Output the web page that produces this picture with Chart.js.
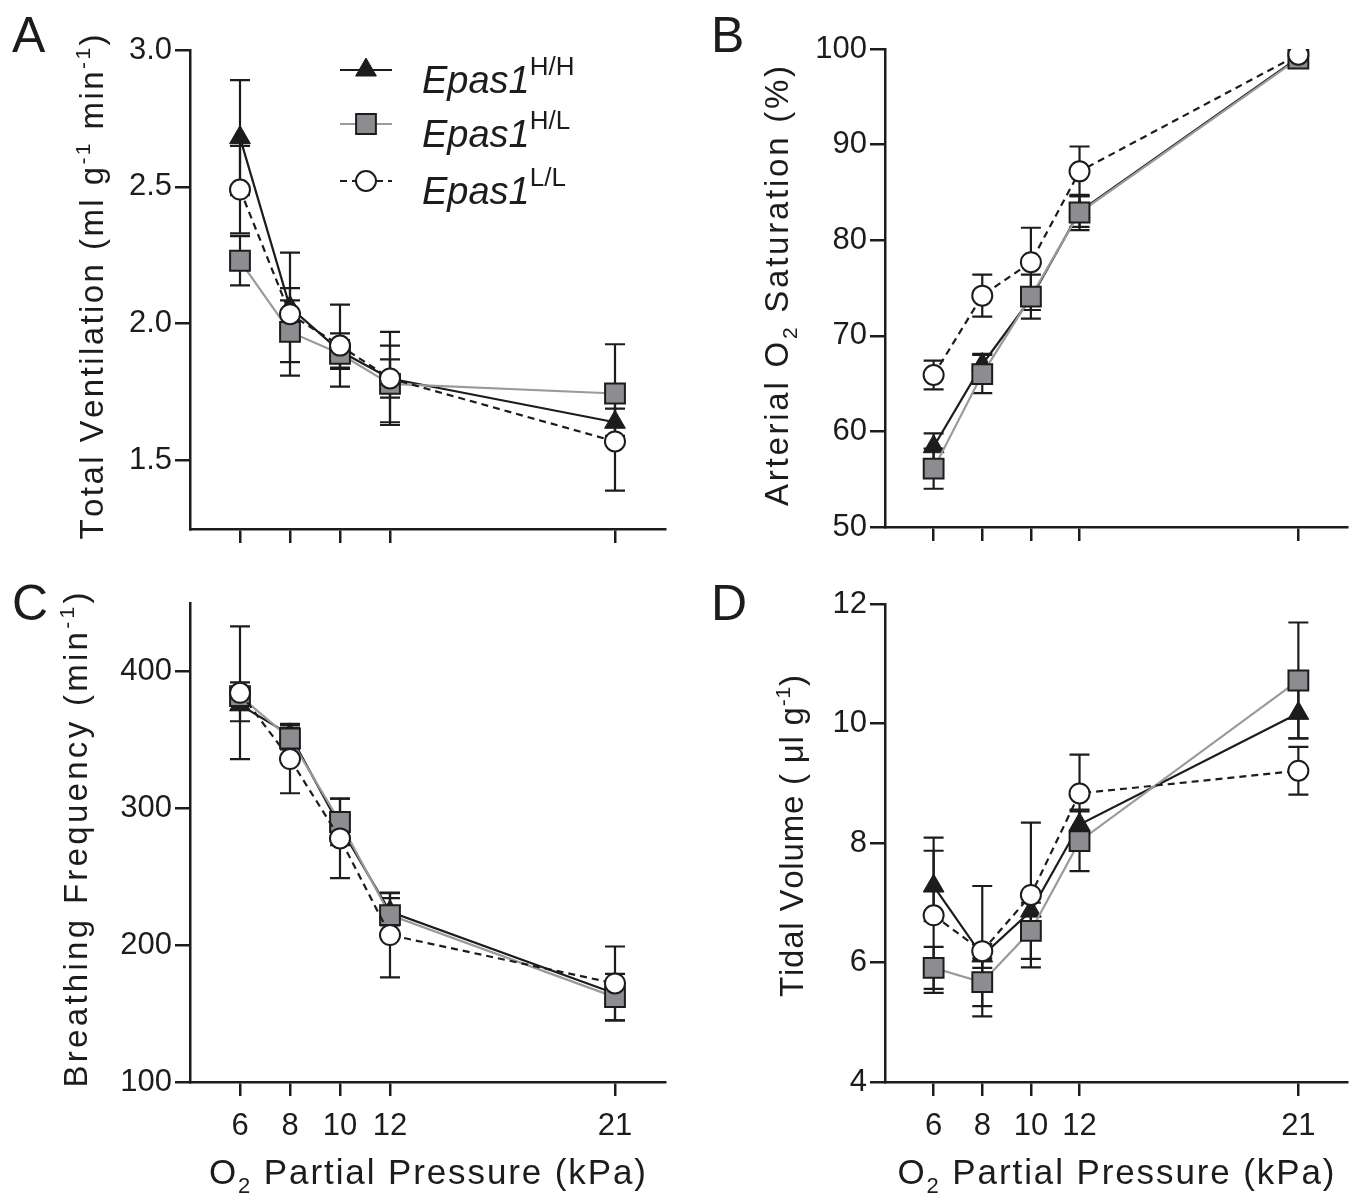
<!DOCTYPE html>
<html><head><meta charset="utf-8">
<script src="https://cdn.jsdelivr.net/npm/chart.js@4.4.1/dist/chart.umd.min.js"></script>
<style>
html,body{margin:0;padding:0;background:#fff;}
#wrap{position:relative;width:1363px;height:1194px;overflow:hidden;background:#fff;}
canvas{position:absolute;}
</style></head><body>
<div id="wrap">
<canvas id="cA" width="681" height="597" style="left:0px;top:0px;width:681px;height:597px"></canvas>
<canvas id="cB" width="682" height="597" style="left:681px;top:0px;width:682px;height:597px"></canvas>
<canvas id="cC" width="681" height="634" style="left:0px;top:560px;width:681px;height:634px"></canvas>
<canvas id="cD" width="682" height="634" style="left:681px;top:560px;width:682px;height:634px"></canvas>
</div>
<script>
// ---------- data ----------
const O2_KPA = [6, 8, 10, 12, 21];
const X_TICKS = [6, 8, 10, 12, 21];
const GENOTYPES = ['H/H', 'H/L', 'L/L'];

// A: Total ventilation (ml g-1 min-1)
const ventHH = [2.68, 2.06, 1.90, 1.80, 1.64];
const ventHH_err = [0.21, 0.20, 0.065, 0.17, 0.05];
const ventHL = [2.23, 1.97, 1.89, 1.78, 1.745];
const ventHL_err = [0.09, 0.16, 0.05, 0.14, 0.18];
const ventLL = [2.49, 2.035, 1.92, 1.80, 1.57];
const ventLL_err = [0.16, 0.05, 0.15, 0.07, 0.18];
const ventTicks = [1.5, 2.0, 2.5, 3.0];

// B: Arterial O2 saturation (%)
const satHH = [58.4, 67.0, 73.9, 83.0, 99.1];
const satHH_err = [1.4, 1.1, 1.2, 1.6, 0.3];
const satHL = [56.1, 66.0, 74.1, 82.9, 99.0];
const satHL_err = [2.1, 2.0, 2.3, 1.85, 0.3];
const satLL = [65.9, 74.2, 77.7, 87.2, 99.4];
const satLL_err = [1.5, 2.2, 3.6, 2.6, 0.3];
const satTicks = [50, 60, 70, 80, 90, 100];

// C: Breathing frequency (min-1)
const freqHH = [375.6, 353.7, 286.6, 224.4, 164.7];
const freqHH_err = [12, 8, 8, 10, 8];
const freqHL = [382, 351, 290, 222, 162];
const freqHL_err = [10, 8, 17, 16, 17];
const freqLL = [384.4, 336, 278, 207.4, 172];
const freqLL_err = [48.5, 25, 29, 31, 27];
const freqTicks = [100, 200, 300, 400];

// D: Tidal volume (ul g-1)
const tidHH = [7.28, 6.11, 6.86, 8.31, 10.17];
const tidHH_err = [0.59, 0.2, 0.3, 0.25, 0.42];
const tidHL = [5.91, 5.67, 6.53, 8.03, 10.72];
const tidHL_err = [0.35, 0.40, 0.47, 0.50, 0.97];
const tidLL = [6.79, 6.19, 7.13, 8.83, 9.21];
const tidLL_err = [1.30, 1.09, 1.21, 0.65, 0.40];
const tidTicks = [4, 6, 8, 10, 12];

// ---------- styling ----------
const FONT = '"Liberation Sans", Arial, Helvetica, sans-serif';
const INK = '#1c1c1c';
const GREY_LINE = '#9a9a9a';
const GREY_FILL = '#8d8d91';
Chart.defaults.font.family = FONT;
Chart.defaults.color = INK;

function fontFor(r, base) {
  const size = r.size || ((r.sup || r.sub) ? Math.round(base * 0.64) : base);
  return (r.italic ? 'italic ' : '') + size + 'px ' + FONT;
}
function runChars(runs) { let n = 0; runs.forEach(r => n += r.t.length); return n; }
function richWidth(ctx, runs, base, ls) {
  let w = 0;
  for (const r of runs) {
    ctx.font = fontFor(r, base);
    for (const ch of r.t) w += ctx.measureText(ch).width + (ls || 0);
  }
  return w - (ls || 0);
}
function drawRich(ctx, runs, base, x0, y0, ls) {
  let x = x0;
  ctx.textBaseline = 'alphabetic';
  ctx.textAlign = 'left';
  for (const r of runs) {
    ctx.font = fontFor(r, base);
    const dy = r.dy !== undefined ? r.dy : (r.sup ? -base * 0.4 : (r.sub ? base * 0.26 : 0));
    if (!ls) { ctx.fillText(r.t, x, y0 + dy); x += ctx.measureText(r.t).width; continue; }
    for (const ch of r.t) { ctx.fillText(ch, x, y0 + dy); x += ctx.measureText(ch).width + ls; }
  }
}
// letter spacing that makes a title span the requested length
function fitSpacing(ctx, runs, base, target) {
  const w0 = richWidth(ctx, runs, base, 0);
  const n = runChars(runs) - 1;
  return Math.max(-1.5, (target - w0) / n);
}
function marker(ctx, style, x, y) {
  ctx.save();
  ctx.lineWidth = 2;
  ctx.strokeStyle = INK;
  ctx.beginPath();
  if (style === 'triangle') {
    const r = 12;
    let a = 0;
    ctx.moveTo(x + Math.sin(a) * r, y - Math.cos(a) * r);
    a += 2 * Math.PI / 3; ctx.lineTo(x + Math.sin(a) * r, y - Math.cos(a) * r);
    a += 2 * Math.PI / 3; ctx.lineTo(x + Math.sin(a) * r, y - Math.cos(a) * r);
    ctx.closePath();
    ctx.fillStyle = INK; ctx.lineWidth = 1;
  } else if (style === 'rect') {
    const s = Math.SQRT1_2 * 14;
    ctx.rect(x - s, y - s, 2 * s, 2 * s);
    ctx.fillStyle = GREY_FILL;
  } else {
    ctx.arc(x, y, 10, 0, Math.PI * 2);
    ctx.fillStyle = '#fff';
  }
  ctx.fill(); ctx.stroke();
  ctx.restore();
}

// error bars drawn beneath lines/markers
const errorBars = {
  id: 'errorBars',
  beforeDatasetsDraw(chart) {
    const ctx = chart.ctx, xs = chart.scales.x, ys = chart.scales.y;
    ctx.save();
    ctx.strokeStyle = INK;
    ctx.lineWidth = 2.2;
    chart.data.datasets.forEach(ds => {
      (ds.errors || []).forEach((e, i) => {
        const p = ds.data[i];
        const px = xs.getPixelForValue(p.x);
        const yt = ys.getPixelForValue(p.y + e), yb = ys.getPixelForValue(p.y - e);
        ctx.beginPath();
        ctx.moveTo(px, yt); ctx.lineTo(px, yb);
        ctx.moveTo(px - 10, yt); ctx.lineTo(px + 10, yt);
        ctx.moveTo(px - 10, yb); ctx.lineTo(px + 10, yb);
        ctx.stroke();
      });
    });
    ctx.restore();
  }
};

// titles, panel letters, legend
const decorations = {
  id: 'decorations',
  afterDraw(chart, args, o) {
    const ctx = chart.ctx;
    ctx.save();
    ctx.fillStyle = INK;
    // panel letter
    ctx.font = '50px ' + FONT;
    ctx.textAlign = 'left'; ctx.textBaseline = 'alphabetic';
    ctx.fillText(o.letter, o.letterX - o.offX, o.letterY - o.offY);
    // y title (rotated)
    const YS = 33;
    const lsY = fitSpacing(ctx, o.ytitle, YS, o.ytLen);
    const w = richWidth(ctx, o.ytitle, YS, lsY);
    ctx.save();
    ctx.translate(o.ytX - o.offX, o.ytY - o.offY);
    ctx.rotate(-Math.PI / 2);
    drawRich(ctx, o.ytitle, YS, -w / 2, 0, lsY);
    ctx.restore();
    // x title
    if (o.xtitle) {
      const XS = 35;
      const ca = chart.chartArea;
      const lsX = fitSpacing(ctx, o.xtitle, XS, o.xtLen);
      const xw = richWidth(ctx, o.xtitle, XS, lsX);
      drawRich(ctx, o.xtitle, XS, (ca.left + ca.right) / 2 - xw / 2, o.xtY - o.offY, lsX);
    }
    // legend
    if (o.legend) {
      const rows = [
        {style: 'triangle', color: INK, dash: [], sup: GENOTYPES[0], y: 70},
        {style: 'rect', color: GREY_LINE, dash: [], sup: GENOTYPES[1], y: 124},
        {style: 'circle', color: INK, dash: [7, 5], sup: GENOTYPES[2], y: 181}
      ];
      rows.forEach(r => {
        ctx.save();
        ctx.strokeStyle = r.color; ctx.lineWidth = 2.2; ctx.setLineDash(r.dash);
        ctx.beginPath(); ctx.moveTo(340 - o.offX, r.y - o.offY); ctx.lineTo(392 - o.offX, r.y - o.offY); ctx.stroke();
        ctx.restore();
        marker(ctx, r.style, 366 - o.offX, r.y - o.offY);
        drawRich(ctx, [
          {t: 'Epas1', italic: true},
          {t: r.sup, size: 26, dy: -18}
        ], 38, 422 - o.offX, r.y + 23 - o.offY);
      });
    }
    ctx.restore();
  }
};

function series(label, xs, ys, errs, kind) {
  const common = {
    label,
    data: xs.map((x, i) => ({x, y: ys[i]})),
    errors: errs,
    borderWidth: 2.2,
    pointBorderColor: INK,
    tension: 0,
    fill: false
  };
  if (kind === 'HH') return Object.assign(common, {
    borderColor: INK, pointStyle: 'triangle', pointRadius: 12, pointBackgroundColor: INK, pointBorderWidth: 1, order: 3
  });
  if (kind === 'HL') return Object.assign(common, {
    borderColor: GREY_LINE, pointStyle: 'rect', pointRadius: 14, pointBackgroundColor: GREY_FILL, pointBorderWidth: 2, order: 2
  });
  return Object.assign(common, {
    borderColor: INK, borderDash: [7, 5], pointStyle: 'circle', pointRadius: 10, pointBackgroundColor: '#fff', pointBorderWidth: 2, order: 1
  });
}

function makePanel(id, p) {
  const canvas = document.getElementById(id);
  const resetPad = s => { s.paddingTop = 0; s.paddingBottom = 0; s.paddingLeft = 0; s.paddingRight = 0; };
  new Chart(canvas.getContext('2d'), {
    type: 'line',
    data: {
      datasets: [
        series('Epas1 H/H', O2_KPA, p.hh, p.hhE, 'HH'),
        series('Epas1 H/L', O2_KPA, p.hl, p.hlE, 'HL'),
        series('Epas1 L/L', O2_KPA, p.ll, p.llE, 'LL')
      ]
    },
    options: {
      responsive: false,
      animation: false,
      events: [],
      layout: {padding: {left: 0, top: p.top, right: p.right, bottom: 0}},
      plugins: {
        legend: {display: false},
        tooltip: {enabled: false},
        decorations: p.deco
      },
      scales: {
        x: {
          type: 'linear', min: 4, max: 23,
          afterBuildTicks: s => { s.ticks = X_TICKS.map(v => ({value: v})); },
          afterFit: s => { s.height = p.xh; resetPad(s); },
          grid: {drawOnChartArea: false, drawTicks: true, tickLength: 14, lineWidth: 2.5, color: INK},
          border: {display: true, color: INK, width: 2.5},
          ticks: {
            autoSkip: false, maxRotation: 0, minRotation: 0, padding: 12,
            font: {size: 31, family: FONT}, color: INK,
            callback: v => p.xlabels ? String(v) : ''
          }
        },
        y: {
          type: 'linear', min: p.ymin, max: p.ymax,
          afterBuildTicks: s => { s.ticks = p.yticks.map(v => ({value: v})); },
          afterFit: s => { s.width = p.yw; resetPad(s); },
          grid: {drawOnChartArea: false, drawTicks: true, tickLength: 15, lineWidth: 2.5, color: INK},
          border: {display: true, color: INK, width: 2.5},
          ticks: {
            autoSkip: false, padding: 3,
            font: {size: 31, family: FONT}, color: INK,
            callback: v => p.fmt(v)
          }
        }
      }
    },
    plugins: [errorBars, decorations]
  });
}

const xTitle = [{t: 'O'}, {t: '2', sub: true}, {t: ' Partial Pressure (kPa)'}];

makePanel('cA', {
  hh: ventHH, hhE: ventHH_err, hl: ventHL, hlE: ventHL_err, ll: ventLL, llE: ventLL_err,
  ymin: 1.25, ymax: 3.0, yticks: ventTicks, fmt: v => v.toFixed(1),
  top: 50, right: 12, yw: 190, xh: 68, xlabels: false,
  deco: {offX: 0, offY: 0, letter: 'A', letterX: 12, letterY: 52,
    ytitle: [{t: 'Total Ventilation (ml g'}, {t: '-1', sup: true}, {t: ' min'}, {t: '-1', sup: true}, {t: ')'}],
    ytX: 103, ytY: 287, ytLen: 505, legend: true}
});
makePanel('cB', {
  hh: satHH, hhE: satHH_err, hl: satHL, hlE: satHL_err, ll: satLL, llE: satLL_err,
  ymin: 50, ymax: 100, yticks: satTicks, fmt: v => String(v),
  top: 49, right: 0, yw: 204, xh: 70, xlabels: false,
  deco: {offX: 681, offY: 0, letter: 'B', letterX: 711, letterY: 52,
    ytitle: [{t: 'Arterial O'}, {t: '2', sub: true}, {t: ' Saturation (%)'}],
    ytX: 788, ytY: 286, ytLen: 440}
});
makePanel('cC', {
  hh: freqHH, hhE: freqHH_err, hl: freqHL, hlE: freqHL_err, ll: freqLL, llE: freqLL_err,
  ymin: 100, ymax: 450, yticks: freqTicks, fmt: v => String(v),
  top: 43, right: 12, yw: 190, xh: 112, xlabels: true,
  deco: {offX: 0, offY: 560, letter: 'C', letterX: 12, letterY: 620,
    ytitle: [{t: 'Breathing Frequency (min'}, {t: '-1', sup: true}, {t: ')'}],
    ytX: 87, ytY: 840, ytLen: 495, xtitle: xTitle, xtY: 1184, xtLen: 437}
});
makePanel('cD', {
  hh: tidHH, hhE: tidHH_err, hl: tidHL, hlE: tidHL_err, ll: tidLL, llE: tidLL_err,
  ymin: 4, ymax: 12, yticks: tidTicks, fmt: v => String(v),
  top: 44, right: 0, yw: 204, xh: 112, xlabels: true,
  deco: {offX: 681, offY: 560, letter: 'D', letterX: 711, letterY: 620,
    ytitle: [{t: 'Tidal Volume ( \u03bcl g'}, {t: '-1', sup: true}, {t: ')'}],
    ytX: 803, ytY: 836, ytLen: 322, xtitle: xTitle, xtY: 1184, xtLen: 437}
});
</script>
</body></html>
